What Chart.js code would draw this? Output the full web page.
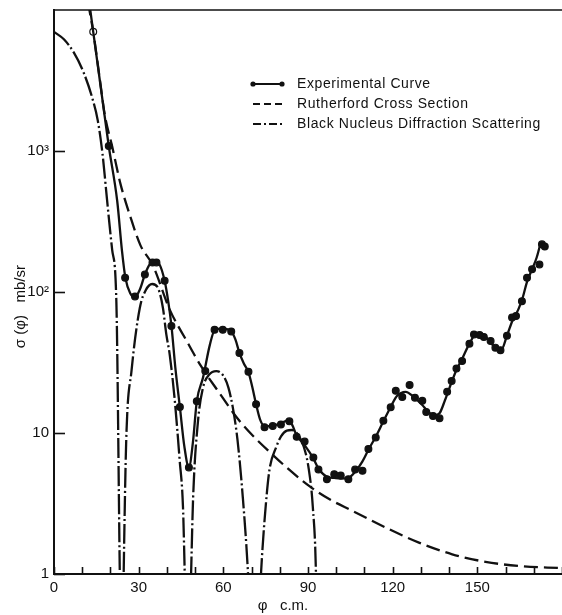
<!DOCTYPE html>
<html><head><meta charset="utf-8">
<script src="https://cdn.jsdelivr.net/npm/chart.js@4"></script>
<style>html,body{margin:0;padding:0;background:#fff;}#wrap{width:562px;height:615px;}</style>
</head><body><div id="wrap"><canvas id="c" width="562" height="615"></canvas></div>
<script>
// ---- data ----
const seriesLabels = ['Experimental Curve', 'Rutherford Cross Section', 'Black Nucleus Diffraction Scattering'];

const expPointAngle = [13.9, 19.4, 25.2, 28.7, 32.2, 34.9, 36.3, 39.2, 41.6, 44.6, 47.8, 50.6, 53.6, 56.9, 59.8, 62.8, 65.7, 68.9, 71.6, 74.6, 77.5, 80.4, 83.4, 86, 88.8, 91.9, 93.7, 96.7, 99.3, 101.6, 104.3, 106.7, 109.3, 111.4, 114, 116.7, 119.3, 121.1, 123.4, 126, 127.9, 130.5, 131.9, 134.3, 136.6, 139.3, 140.9, 142.6, 144.6, 147.2, 148.8, 150.8, 152.3, 154.7, 156.4, 158.2, 160.5, 162.3, 163.7, 165.8, 167.6, 169.4, 172, 172.9, 173.9];
const expPointValue = [7000, 1085, 126, 93, 133, 162, 162, 120, 57.5, 15.3, 5.7, 16.8, 27.5, 54, 54, 52.5, 37, 27.2, 16, 11, 11.2, 11.5, 12.1, 9.4, 8.7, 6.7, 5.5, 4.7, 5.1, 5.0, 4.7, 5.5, 5.4, 7.7, 9.3, 12.2, 15.2, 19.9, 18, 21.9, 17.8, 16.9, 14.1, 13.2, 12.7, 19.6, 23.4, 28.7, 32.4, 43, 50, 49.6, 48, 45, 40.3, 38.7, 49, 66, 67.6, 86, 126, 145, 157, 218, 210];

const expCurveAngle = [12.2, 13.9, 16.5, 19.4, 22.4, 24.1, 25.3, 27, 28.7, 30.5, 32.2, 34, 35.6, 37.3, 39.2, 40.5, 41.6, 43, 44.6, 46.2, 47.8, 49.2, 50.6, 52.8, 55.2, 57, 59.8, 62.8, 64.3, 65.7, 67.3, 68.9, 70.3, 71.6, 73, 74.6, 77.5, 80.4, 82.8, 84.3, 86, 88.8, 91.9, 93.7, 96.7, 99.3, 101.6, 104.3, 106.7, 109.3, 111.4, 114, 116.7, 119.3, 121.5, 124.6, 127.5, 130.5, 132.5, 135, 136.6, 138.5, 140.9, 142.6, 144.6, 147.2, 149.5, 151.5, 153.5, 155.5, 157.5, 158.5, 160.5, 162.5, 164.5, 166, 167.6, 169.4, 171, 172.3];
const expCurveValue = [12500, 7000, 2900, 1085, 442, 195, 126, 98, 92, 105, 133, 158, 165, 158, 120, 85, 58, 29, 15.3, 8, 5.7, 8.5, 16.8, 24.7, 42, 54, 55, 52.5, 46, 37, 31, 27, 21, 16, 12.5, 11.2, 11.3, 11.7, 12.3, 11.5, 9.6, 8.2, 6.6, 5.6, 4.9, 4.8, 4.75, 4.8, 5.3, 6.3, 7.6, 9.4, 12.1, 15.3, 18.3, 19.6, 18, 15.8, 14.2, 13.4, 13.8, 17, 23, 28, 33.5, 43, 50, 49.5, 47, 42, 39.5, 39, 49, 63, 75, 90, 118, 145, 175, 218];

const rutherfordAngle = [12.0, 13.9, 16, 18, 20.6, 23.6, 27.1, 30.6, 35, 41, 47, 52, 58, 65.7, 77.5, 90.5, 97.5, 105.8, 117.6, 129.3, 141.1, 152.9, 164.7, 180];
const rutherfordValue = [11500, 7000, 3500, 1800, 1080, 580, 340, 215, 155, 75, 45, 30, 20, 12.2, 7.0, 4.2, 3.4, 2.8, 2.13, 1.67, 1.38, 1.22, 1.14, 1.1];

const diffractionAngle = [0, 3.5, 7, 10.5, 13.5, 15.5, 17.2, 18.8, 20.6, 22.1, 23.3, 24.0, 24.7, 25.6, 27.5, 30.4, 32.5, 34.8, 37, 38.6, 39.8, 41, 42.8, 44.5, 45.7, 46.3, 47.4, 48.6, 49.3, 51, 52.8, 55, 57.5, 60, 61.8, 63.4, 65, 66.9, 68.7, 71, 73.4, 74.6, 76.3, 78.7, 80.5, 82.5, 84.3, 86.5, 88.5, 90.3, 91.7, 92.8, 93.6];
const diffractionValue = [7000, 6200, 5000, 3600, 2400, 1650, 950, 450, 200, 85, 1.05, 0.1, 1.05, 9, 28, 77, 103, 114, 105, 77, 50, 36, 17, 6.5, 3, 1.05, 0.1, 1.05, 3.5, 12, 21, 26, 27.5, 25.5, 21, 15, 9, 3.5, 1.05, 0.1, 1.05, 2.4, 5.4, 7.9, 9.5, 10.4, 10.5, 9.7, 8, 5.5, 3, 1.05, 0.1];

const xTickValues = [0, 30, 60, 90, 120, 150];
const xTickLabels = ['0', '30', '60', '90', '120', '150'];
const xMinorTickValues = [0, 10, 20, 30, 40, 50, 60, 70, 80, 90, 100, 110, 120, 130, 140, 150, 160, 170, 180];
const yTickValues = [1, 10, 100, 1000];
const yTickLabels = ['1', '10', '10²', '10³'];
const xTitle = 'φ   c.m.';
const yTitle = 'σ (φ)   mb/sr';

// ---- chart ----
const zip = (xs, ys) => xs.map((x, i) => ({x: x, y: ys[i]}));
const FONT = "'Liberation Sans', Arial, sans-serif";
const INK = '#111';

const framePlugin = {
  id: 'frame',
  afterDraw(chart) {
    const ctx = chart.ctx, a = chart.chartArea;
    const xs = chart.scales.x, ys = chart.scales.y;
    ctx.save();
    ctx.strokeStyle = INK;
    ctx.lineWidth = 1.6;
    ctx.beginPath(); ctx.moveTo(a.left, a.top); ctx.lineTo(a.right, a.top); ctx.stroke();
    xMinorTickValues.forEach(v => {
      const px = Math.round(xs.getPixelForValue(v)) + 0.5;
      ctx.beginPath(); ctx.moveTo(px, a.bottom); ctx.lineTo(px, a.bottom - 7); ctx.stroke();
    });
    yTickValues.forEach(v => {
      const py = Math.round(ys.getPixelForValue(v)) + 0.5;
      ctx.beginPath(); ctx.moveTo(a.left, py); ctx.lineTo(a.left + 11, py); ctx.stroke();
    });
    // legend
    const lx0 = 253, lx1 = 282, tx = 297, rows = [84, 104, 124];
    ctx.lineWidth = 2;
    ctx.beginPath(); ctx.moveTo(lx0, rows[0]); ctx.lineTo(lx1, rows[0]); ctx.stroke();
    ctx.fillStyle = INK;
    [lx0, lx1].forEach(x => { ctx.beginPath(); ctx.arc(x, rows[0], 2.6, 0, Math.PI * 2); ctx.fill(); });
    ctx.setLineDash([7, 4]);
    ctx.beginPath(); ctx.moveTo(lx0, rows[1]); ctx.lineTo(lx1 + 1, rows[1]); ctx.stroke();
    ctx.setLineDash([8, 3, 2, 3]);
    ctx.beginPath(); ctx.moveTo(lx0, rows[2]); ctx.lineTo(lx1 + 1, rows[2]); ctx.stroke();
    ctx.setLineDash([]);
    ctx.font = '14px ' + FONT;
    try { ctx.letterSpacing = '0.6px'; } catch (e) {}
    ctx.textBaseline = 'middle';
    ctx.textAlign = 'left';
    seriesLabels.forEach((t, i) => ctx.fillText(t, tx, rows[i]));
    ctx.restore();
  }
};

new Chart(document.getElementById('c'), {
  type: 'scatter',
  data: {
    datasets: [
      {label: seriesLabels[0], data: zip(expCurveAngle, expCurveValue), showLine: true, borderColor: INK, borderWidth: 2.3, pointRadius: 0, cubicInterpolationMode: 'monotone', clip: 0},
      {label: 'points', data: zip(expPointAngle, expPointValue), showLine: false, pointRadius: 3.4, pointBorderWidth: 1.2, pointBorderColor: INK,
        pointBackgroundColor: c => c.dataIndex === 0 ? '#fff' : INK, clip: 0},
      {label: seriesLabels[1], data: zip(rutherfordAngle, rutherfordValue), showLine: true, borderColor: INK, borderWidth: 2.3, borderDash: [14, 6], pointRadius: 0, cubicInterpolationMode: 'monotone', clip: 0},
      {label: seriesLabels[2], data: zip(diffractionAngle, diffractionValue), showLine: true, borderColor: INK, borderWidth: 2.3, borderDash: [20, 3, 2, 3], pointRadius: 0, cubicInterpolationMode: 'monotone', clip: 0}
    ]
  },
  options: {
    responsive: false, animation: false, devicePixelRatio: 1,
    layout: {autoPadding: false, padding: {top: 10, right: 0, left: 0, bottom: 0}},
    plugins: {legend: {display: false}, tooltip: {enabled: false}},
    scales: {
      x: {
        type: 'linear', min: 0, max: 180,
        afterBuildTicks: s => { s.ticks = xTickValues.map(v => ({value: v})); },
        afterFit: s => { s.height = 41; s.paddingLeft = 0; s.paddingRight = 0; },
        ticks: {callback: v => xTickLabels[xTickValues.indexOf(v)], font: {family: FONT, size: 15}, color: INK, padding: 5, maxRotation: 0, autoSkip: false},
        grid: {display: true, drawOnChartArea: false, drawTicks: false},
        border: {display: true, color: INK, width: 2},
        title: {display: true, text: xTitle + '            ', font: {family: FONT, size: 15}, color: INK, padding: {top: 0, bottom: 0}}
      },
      y: {
        type: 'logarithmic', min: 1, max: 10000,
        afterBuildTicks: s => { s.ticks = yTickValues.map(v => ({value: v})); },
        afterFit: s => { s.width = 54; s.paddingTop = 0; s.paddingBottom = 0; },
        ticks: {callback: v => yTickLabels[yTickValues.indexOf(v)], font: {family: FONT, size: 15}, color: INK, padding: 5, autoSkip: false},
        grid: {display: true, drawOnChartArea: false, drawTicks: false},
        border: {display: true, color: INK, width: 2},
        title: {display: true, text: yTitle + '       ', font: {family: FONT, size: 15}, color: INK, padding: {top: 12, bottom: 0}}
      }
    }
  },
  plugins: [framePlugin]
});
</script></body></html>
